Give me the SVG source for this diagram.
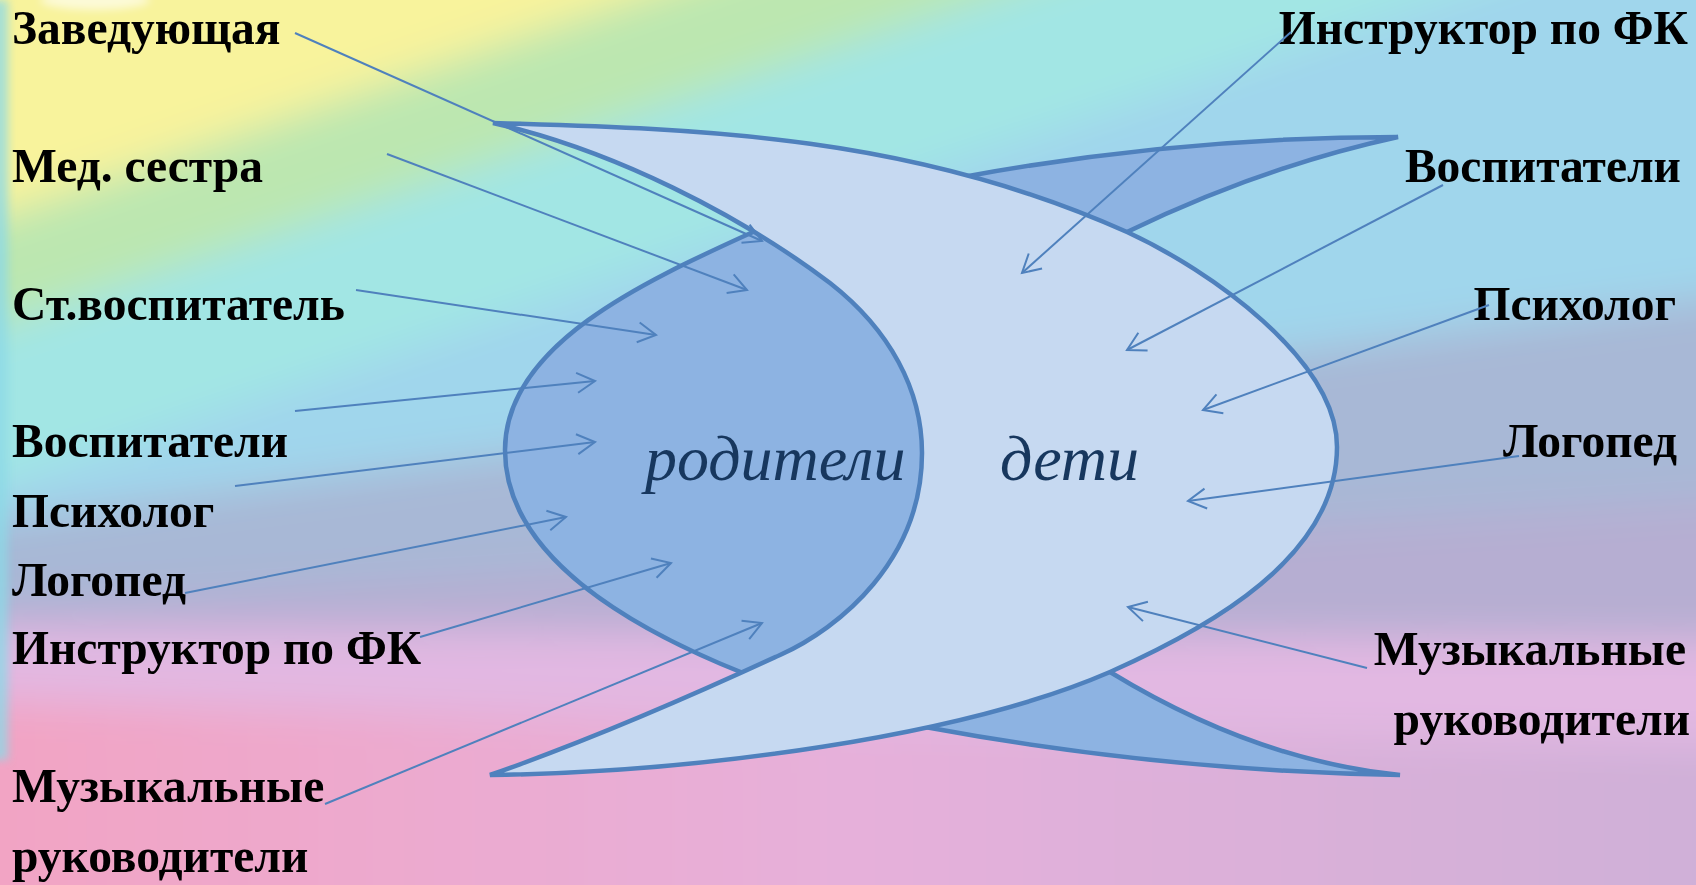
<svg xmlns="http://www.w3.org/2000/svg" width="1696" height="885" viewBox="0 0 1696 885">
<defs>
<style>
.lbl{font-family:"Liberation Serif","Times New Roman",serif;font-weight:bold;font-size:47.5px;fill:#000}
.r{text-anchor:end}
.it{font-family:"Liberation Serif","Times New Roman",serif;font-style:italic;font-size:64px;fill:#17375e}
.shape{stroke:#4f81bd;stroke-width:4.5;stroke-linejoin:miter;stroke-miterlimit:6}
.light{fill:#c6d9f1}
.dark{fill:#8db3e2}
.conn line{stroke:#4f81bd;stroke-width:2;fill:none;marker-end:url(#ah)}
</style>
<marker id="ah" markerUnits="userSpaceOnUse" viewBox="-22 -13 26 26" markerWidth="26" markerHeight="26" refX="0" refY="0" orient="auto">
<path d="M-18,-10 L0,0 L-18,10" fill="none" stroke="#4f81bd" stroke-width="2"/>
</marker>
<filter id="soft" filterUnits="userSpaceOnUse" x="-200" y="-200" width="2100" height="1300">
<feGaussianBlur stdDeviation="20"/>
</filter>
<filter id="soft2" filterUnits="userSpaceOnUse" x="-100" y="-100" width="400" height="1100">
<feGaussianBlur stdDeviation="4"/>
</filter>
<linearGradient id="pinkgrad" gradientUnits="userSpaceOnUse" x1="0" y1="0" x2="1696" y2="0">
<stop offset="0" stop-color="#f2a4c4"/>
<stop offset="0.5" stop-color="#e6b0da"/>
<stop offset="1" stop-color="#cfb0d8"/>
</linearGradient>
</defs>

<g id="background">
<rect x="0" y="0" width="1696" height="885" fill="#b8d4e6"/>
<g filter="url(#soft)">
<polygon points="-100,-500 1800,-1400 1800,-400 -100,250" fill="#f8f39c"/>
<polygon points="-100,250 1800,-400 1800,-272 -100,358" fill="#bce7b0"/>
<polygon points="-100,358 1800,-272 1800,-123 -100,520" fill="#a2e6e4"/>
<polygon points="-100,520 1800,-123 1800,286 -100,533" fill="#a0d6ec"/>
<polygon points="-100,533 1800,286 1800,494 -100,612" fill="#a8b8d6"/>
<polygon points="-100,612 1800,494 1800,641 -100,626" fill="#b6aed2"/>
<polygon points="-100,626 1800,641 1800,748 -100,697" fill="#e2b8e2"/>
<polygon points="-100,697 1800,748 1800,1000 -100,1000" fill="url(#pinkgrad)"/>
</g>
<g filter="url(#soft2)">
<rect x="-20" y="0" width="28" height="760" fill="#8cd8e6" opacity="0.75"/>
<ellipse cx="95" cy="0" rx="55" ry="10" fill="#ffffff" opacity="0.6"/>
</g>
</g>

<g id="crescent-top" class="shape dark">
<path d="M938,181 L963,177 Q1179.5,137 1398,137 Q1262.5,166.5 1127,232 L1100,250 Z"/>
</g>
<g id="crescent-bottom" class="shape dark">
<path d="M1090,661 L1110,672 Q1255,760.5 1400,775 Q1162.5,771 925,727 L900,724 Z"/>
</g>
<g id="roditeli" class="shape dark">
<path d="M790,216 L753,232 C643,282 505,345 505,450 C505,555 628,627 743,673 L775,686 L960,600 L960,300 Z"/>
</g>
<g id="deti" class="shape light">
<path d="M493,123 C707,129 913,136 1127,232 C1210,270 1337,360 1337,447 C1337,557 1209,628 1110,672 C960,737 700,772 490,775 C585,742 700,692 780,655 C840,628 922,560 922,453 C922,390 890,330 830,283 C740,215 613,150 493,123 Z"/>
</g>
<g id="roditeli-label"><text class="it" x="645" y="480">родители</text></g>
<g id="deti-label"><text class="it" x="1000" y="480">дети</text></g>

<g id="left-zaveduyushchaya"><text class="lbl" x="12" y="44">Заведующая</text></g>
<g id="left-medsestra"><text class="lbl" x="12" y="182">Мед. сестра</text></g>
<g id="left-stvospitatel"><text class="lbl" x="12" y="320">Ст.воспитатель</text></g>
<g id="left-vospitateli"><text class="lbl" x="12" y="457">Воспитатели</text></g>
<g id="left-psikholog"><text class="lbl" x="12" y="527">Психолог</text></g>
<g id="left-logoped"><text class="lbl" x="12" y="596">Логопед</text></g>
<g id="left-instruktor"><text class="lbl" x="12" y="664">Инструктор по ФК</text></g>
<g id="left-muz"><text class="lbl" x="12" y="802">Музыкальные</text><text class="lbl" x="12" y="872">руководители</text></g>

<g id="right-instruktor"><text class="lbl r" x="1688" y="44">Инструктор по ФК</text></g>
<g id="right-vospitateli"><text class="lbl r" x="1681" y="182">Воспитатели</text></g>
<g id="right-psikholog"><text class="lbl r" x="1676" y="320">Психолог</text></g>
<g id="right-logoped"><text class="lbl r" x="1677" y="457">Логопед</text></g>
<g id="right-muz"><text class="lbl r" x="1686" y="665">Музыкальные</text><text class="lbl r" x="1690" y="735">руководители</text></g>

<g id="connectors" class="conn">
<line x1="295" y1="33" x2="762" y2="241"/>
<line x1="387" y1="154" x2="747" y2="290"/>
<line x1="356" y1="290" x2="656" y2="335"/>
<line x1="295" y1="411" x2="595" y2="381"/>
<line x1="235" y1="486" x2="595" y2="442"/>
<line x1="185" y1="593" x2="566" y2="517"/>
<line x1="420" y1="637" x2="671" y2="563"/>
<line x1="325" y1="804" x2="762" y2="623"/>
<line x1="1291" y1="32" x2="1022" y2="273"/>
<line x1="1443" y1="185" x2="1127" y2="350"/>
<line x1="1489" y1="305" x2="1203" y2="410"/>
<line x1="1519" y1="456" x2="1188" y2="501"/>
<line x1="1367" y1="668" x2="1128" y2="607"/>
</g>
</svg>
